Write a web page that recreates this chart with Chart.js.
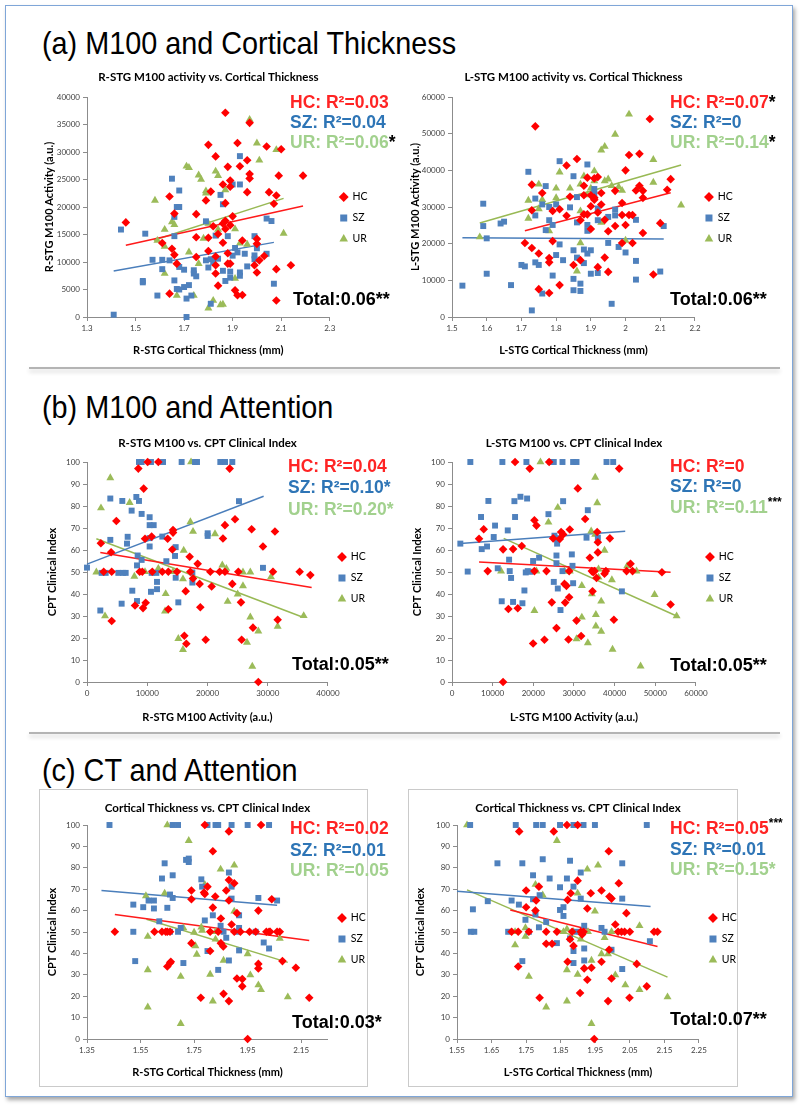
<!DOCTYPE html>
<html><head><meta charset="utf-8">
<script src="https://cdn.jsdelivr.net/npm/chart.js@4.4.0/dist/chart.umd.min.js"></script>
<style>
html,body{margin:0;padding:0;background:#fff;width:800px;height:1106px;overflow:hidden;}
.frame{position:absolute;left:5px;top:5px;width:786px;height:1090px;border:1.5px solid #7fa6d8;box-shadow:2px 3px 4px rgba(0,0,0,.35);}
.h{position:absolute;left:42px;font-family:"Liberation Sans",Arial,sans-serif;font-size:32px;line-height:32px;color:#000;white-space:nowrap;transform:scaleX(0.9);transform-origin:0 0;}
.sep{position:absolute;left:29px;width:751px;height:2px;background:#b4b4b4;box-shadow:0 3px 4px rgba(0,0,0,.18);}
.box{position:absolute;border:1px solid #cacaca;}
canvas{position:absolute;}
</style></head>
<body>
<div class="frame"></div>
<div class="h" style="top:27px">(a) M100 and Cortical Thickness</div>
<div class="sep" style="top:367px"></div>
<div class="h" style="top:391px">(b) M100 and Attention</div>
<div class="sep" style="top:732px"></div>
<div class="h" style="top:754px">(c) CT and Attention</div>
<div class="box" style="left:39px;top:789px;width:327px;height:296px"></div>
<div class="box" style="left:408px;top:789px;width:328px;height:296px"></div>
<canvas id="aL" width="400" height="324" style="left:0;top:56px"></canvas>
<canvas id="aR" width="400" height="324" style="left:400px;top:56px"></canvas>
<canvas id="bL" width="400" height="316" style="left:0;top:420px"></canvas>
<canvas id="bR" width="400" height="316" style="left:400px;top:420px"></canvas>
<canvas id="cL" width="400" height="298" style="left:0;top:790px"></canvas>
<canvas id="cR" width="400" height="298" style="left:400px;top:790px"></canvas>
<script>
// ---------------- DATA ----------------
const groups = ['HC', 'SZ', 'UR'];

// (a) left: R-STG cortical thickness (mm) vs R-STG M100 activity (a.u.)
const aL_HC = [[1.46,17200],[1.64,21900],[1.66,18800],[1.61,13450],[1.65,12400],[1.66,11300],[1.67,9700],[1.64,4250],[1.80,31300],[1.83,29200],[1.88,27300],[1.87,37150],[1.75,18700],[1.75,14500],[1.75,10900],[1.79,21200],[1.81,22800],[1.80,14400],[1.80,12000],[1.82,16500],[1.83,11000],[1.83,9400],[1.83,7900],[1.84,15100],[1.84,5700],[1.86,24100],[1.86,17000],[1.86,13500],[1.87,17500],[1.87,16000],[1.87,20700],[1.88,11600],[1.89,24800],[1.89,23700],[1.89,16700],[1.88,9700],[1.89,9700],[1.90,18300],[1.91,4850],[1.92,31650],[1.92,3950],[1.93,27400],[1.94,13900],[1.94,4000],[1.96,28500],[1.96,22700],[1.97,26000],[1.97,25200],[1.97,35300],[1.99,9400],[2.00,14200],[2.00,13300],[2.00,8100],[2.01,10300],[2.03,11100],[2.04,31000],[2.05,22700],[2.07,20600],[2.08,22100],[2.08,8700],[2.08,3000],[2.09,25700],[2.10,30500],[2.14,9400],[2.19,25700]];
const aL_SZ = [[1.41,420],[1.44,15900],[1.54,15150],[1.53,6550],[1.53,6300],[1.57,10400],[1.59,3900],[1.61,10400],[1.61,8700],[1.64,10300],[1.65,25150],[1.66,18200],[1.66,14700],[1.66,6650],[1.67,20000],[1.67,5100],[1.68,23000],[1.68,20000],[1.68,9100],[1.68,5000],[1.70,8600],[1.70,5450],[1.71,3350],[1.71,0],[1.72,5800],[1.73,3900],[1.74,8500],[1.74,7900],[1.75,7400],[1.79,17400],[1.79,10300],[1.80,9000],[1.81,10500],[1.81,2400],[1.82,10000],[1.83,14800],[1.84,10600],[1.85,22200],[1.86,20500],[1.86,8400],[1.87,6550],[1.88,14700],[1.89,8250],[1.89,7150],[1.90,24100],[1.90,11150],[1.91,12550],[1.92,11750],[1.93,29250],[1.93,24100],[1.93,8100],[1.93,7500],[1.95,11500],[1.96,9200],[1.99,14700],[1.99,11200],[1.99,10500],[2.00,12500],[2.04,17900],[2.06,17450],[2.04,11500],[2.07,6050]];
const aL_UR = [[1.58,21200],[1.59,13900],[1.62,15900],[1.62,12850],[1.62,7900],[1.65,17300],[1.66,16800],[1.67,3900],[1.71,27400],[1.72,27150],[1.72,11800],[1.74,3900],[1.76,25800],[1.77,25000],[1.76,9700],[1.78,14300],[1.79,22900],[1.79,22500],[1.80,17000],[1.80,1600],[1.82,3000],[1.83,26500],[1.84,25700],[1.84,15900],[1.85,2200],[1.86,2300],[1.87,23100],[1.91,16000],[1.91,7000],[1.93,13400],[1.96,13200],[1.97,35900],[2.00,31600],[2.01,28500],[2.08,30400],[2.11,15200]];
const aL_fit = {HC: [[1.46,13030],[2.19,20180]], SZ: [[1.41,8360],[2.07,13570]], UR: [[1.575,13940],[2.11,21570]]};

// (a) right: L-STG cortical thickness vs L-STG M100 activity
const aR_HC = [[1.74,52000],[2.07,54000],[1.73,36100],[1.71,20200],[1.73,18800],[1.73,29100],[1.75,17300],[1.75,7600],[1.76,33800],[1.78,16100],[1.78,14900],[1.78,6550],[1.79,28900],[1.79,20700],[1.81,29400],[1.81,8700],[1.83,27600],[1.83,41300],[1.84,32800],[1.85,14200],[1.86,43100],[1.87,26400],[1.87,15500],[1.88,28000],[1.88,35800],[1.88,33200],[1.89,38000],[1.89,28000],[1.90,33200],[1.90,30200],[1.90,24000],[1.91,32500],[1.91,32000],[1.91,37800],[1.92,28500],[1.92,38200],[1.92,13600],[1.93,33800],[1.93,30700],[1.94,26500],[1.94,16200],[1.95,12300],[1.95,23400],[1.97,24800],[1.97,34400],[1.99,31100],[1.99,27800],[1.99,20200],[2.00,40000],[2.00,25100],[2.01,44200],[2.01,27800],[2.02,27800],[2.02,20200],[2.03,34500],[2.04,44500],[2.04,35800],[2.05,32500],[2.05,34400],[2.05,22900],[2.08,11600],[2.10,25600],[2.12,34700],[2.13,37600]];
const aR_SZ = [[1.53,8550],[1.59,30900],[1.59,24800],[1.60,21450],[1.60,11800],[1.64,25500],[1.65,26000],[1.67,8700],[1.70,14200],[1.71,13800],[1.72,39600],[1.73,1800],[1.74,32300],[1.74,27700],[1.74,14900],[1.75,14200],[1.76,30700],[1.76,6400],[1.77,35700],[1.77,23700],[1.78,30000],[1.78,26400],[1.79,25100],[1.79,11300],[1.80,30700],[1.80,16900],[1.81,42500],[1.81,19800],[1.82,15500],[1.84,29900],[1.85,38400],[1.85,18200],[1.85,10400],[1.85,7300],[1.86,32700],[1.86,25800],[1.86,16200],[1.87,9100],[1.87,7100],[1.88,18400],[1.88,14700],[1.89,41600],[1.89,25100],[1.89,23500],[1.89,17300],[1.90,18200],[1.90,11800],[1.91,34900],[1.91,33500],[1.92,29600],[1.92,26400],[1.92,12000],[1.95,27300],[1.95,20200],[1.96,3600],[1.97,29300],[1.97,27700],[1.98,19100],[2.00,17600],[2.03,26500],[2.03,15300],[2.03,10200],[2.10,12400],[2.11,24800]];
const aR_UR = [[1.58,21800],[1.72,31800],[1.72,26900],[1.75,36200],[1.75,29500],[1.76,32000],[1.78,23500],[1.80,35100],[1.80,32500],[1.81,39500],[1.84,35100],[1.86,12500],[1.87,36200],[1.87,28900],[1.87,20200],[1.88,38400],[1.89,33300],[1.90,35100],[1.91,39800],[1.91,37100],[1.93,25800],[1.93,45500],[1.94,46500],[1.94,37100],[1.95,37600],[1.96,35800],[1.97,49800],[1.98,35500],[1.99,34500],[2.00,20900],[2.01,55300],[2.04,35500],[2.08,42900],[2.08,36700],[2.16,30500]];
const aR_fit = {HC: [[1.71,23540],[2.13,33900]], SZ: [[1.53,21630],[2.11,21270]], UR: [[1.58,25630],[2.16,41450]]};

// (b) left: R-STG M100 activity vs CPT clinical index
const bL_HC = [[2300,63.1],[2770,50.1],[4100,50.1],[4000,59.0],[4100,27.7],[4870,73.2],[7970,34.8],[8520,97.0],[8740,50.1],[9180,50.1],[9300,33.6],[9410,87.9],[9630,65.1],[9740,36.0],[10070,100],[10730,66.1],[10840,50.1],[11840,100],[12500,50.1],[13390,65.1],[13500,33.1],[13500,50.1],[14160,60.2],[14280,69.1],[14280,67.9],[14940,50.1],[16160,21.0],[16380,41.3],[16490,17.4],[17040,56.9],[17150,50.1],[17600,47.1],[18370,53.7],[18700,44.6],[18810,34.0],[19700,19.2],[20470,50.1],[20690,43.4],[22020,50.1],[22570,65.2],[22900,71.3],[22900,50.1],[23680,97.0],[24120,44.6],[24570,74.0],[25120,50.1],[25560,36.2],[25670,19.2],[27330,69.4],[27550,24.7],[28440,0],[29210,61.6],[30870,50.1],[31200,68.4],[31650,28.3],[35300,50.1],[37070,48.6]];
const bL_SZ = [[0,52.0],[2210,32.5],[2430,49.6],[3100,49.6],[3870,83.4],[3870,64.6],[5200,49.6],[5750,35.6],[5860,82.3],[5970,49.6],[6420,49.6],[6750,66.0],[6640,62.9],[7410,77.9],[7520,41.5],[8190,84.1],[8300,36.8],[8300,53.0],[8410,57.5],[8630,82.3],[8630,100],[9070,100],[9070,76.4],[9070,55.5],[10400,74.9],[10400,71.3],[10400,65.4],[10400,61.6],[10620,100],[10620,41.0],[10730,49.6],[11070,71.3],[11510,49.6],[11620,45.5],[11620,42.2],[12620,100],[12500,66.1],[13170,54.9],[14610,57.3],[14720,61.3],[14720,47.4],[15160,36.2],[15710,100],[17490,49.8],[17490,45.2],[17930,100],[18260,100],[20030,67.6],[20030,66.4],[22130,100],[22910,100],[24120,100],[25230,82.2],[29210,51.9]];
const bL_UR = [[1550,49.9],[2320,79.1],[2990,30.0],[3870,92.8],[7080,81.5],[7860,48.0],[9630,50.1],[11840,51.6],[13060,40.1],[12950,32.2],[14280,50.1],[15160,19.7],[15930,14.7],[15930,46.8],[16050,59.8],[17160,72.8],[17270,100],[17600,68.4],[21250,67.3],[22460,53.1],[23130,51.6],[23350,36.6],[25010,39.9],[25890,49.9],[25890,43.7],[26560,18.0],[27110,49.9],[27110,29.5],[27440,7.1],[28440,23.1],[30540,47.7],[31650,25.3],[35970,30.1]];
const bL_fit = {HC: [[2210,58.9],[37290,43.0]], SZ: [[0,53.6],[29320,84.4]], UR: [[1550,65.1],[35850,29.4]]};

// (b) right: L-STG M100 activity vs CPT clinical index
const bR_HC = [[6650,65.1],[7800,69.4],[8780,50.4],[12560,60.3],[12560,0],[13870,33.2],[15020,60.4],[15510,100],[16170,33.5],[17160,61.8],[19120,97.0],[19950,17.5],[20270,73.5],[20270,50.4],[20770,71.1],[22740,19.2],[23230,50.4],[23890,100],[24540,36.2],[24870,65.3],[25690,24.5],[26510,65.0],[26840,68.2],[27330,67.1],[27660,44.6],[27830,36.1],[28150,43.7],[28650,19.3],[28810,50.4],[28970,69.3],[28810,38.5],[30940,88.0],[30620,27.9],[31760,20.9],[32750,74.1],[33900,56.5],[34390,50.4],[34720,49.9],[35050,50.4],[34560,41.2],[35870,58.9],[35870,63.5],[35710,68.2],[35540,47.3],[37510,49.2],[37840,50.4],[38820,65.3],[39810,28.3],[41120,97.0],[42930,50.4],[43910,53.7],[44410,50.4],[51630,49.9],[53760,35.2]];
const bR_SZ = [[2050,62.9],[3860,50.2],[4510,100],[7140,75.0],[7310,60.4],[8620,61.6],[8950,82.3],[10260,65.9],[10590,71.1],[11250,51.7],[12390,100],[12230,36.7],[13710,68.9],[14040,55.6],[14200,50.4],[14530,47.3],[15020,36.4],[15350,82.2],[15510,75.0],[16830,84.2],[17320,35.8],[17810,41.6],[18140,49.8],[18300,100],[18470,83.4],[18630,50.4],[19290,50.1],[19950,55.0],[21420,56.5],[23720,76.3],[24210,100],[25030,100],[25200,66.5],[25530,65.3],[25690,54.0],[27170,100],[27330,82.2],[25850,62.9],[25690,57.5],[26020,42.5],[26680,32.7],[27170,50.4],[29470,58.0],[29790,100],[30620,100],[29630,52.8],[29790,44.9],[33080,65.6],[33400,78.1],[35870,65.6],[38000,100],[39640,100],[41780,41.2],[25030,45.5]];
const bR_UR = [[12070,50.4],[20770,50.4],[20270,32.4],[21750,100],[23720,72.6],[26020,79.3],[27660,50.4],[28970,50.4],[30620,19.6],[31930,43.8],[31930,29.4],[33410,17.8],[34230,68.6],[34390,40.0],[35220,93.0],[35220,67.1],[35380,30.6],[35380,25.4],[35710,81.4],[36030,51.3],[36030,47.6],[36690,36.7],[36690,23.0],[37510,59.8],[39320,46.4],[39480,14.8],[43090,52.8],[45390,50.4],[46380,7.2],[49820,39.7],[55240,30.0]];
const bR_fit = {HC: [[6650,54.5],[53760,49.9]], SZ: [[2050,62.9],[42600,68.5]], UR: [[12720,65.3],[55240,30.0]]};

// (c) left: R-STG cortical thickness vs CPT clinical index
const cL_HC = [[1.454,50.1],[1.602,50.1],[1.63,50.1],[1.644,50.1],[1.65,50.1],[1.66,50.1],[1.65,33.9],[1.66,35.5],[1.663,36.1],[1.74,69.4],[1.74,65.3],[1.74,44.8],[1.775,19.3],[1.787,68.4],[1.79,100],[1.79,67.8],[1.80,71.2],[1.81,41.1],[1.81,50.1],[1.82,87.7],[1.82,61.4],[1.829,66.6],[1.84,50.1],[1.85,56.3],[1.85,44.8],[1.859,43.2],[1.86,21.1],[1.87,69.4],[1.88,74.3],[1.88,64.7],[1.88,17.7],[1.88,97.0],[1.89,53.5],[1.90,72.8],[1.90,50.1],[1.91,58.8],[1.91,28.3],[1.923,50.1],[1.93,28.0],[1.93,24.6],[1.95,0],[1.957,50.1],[1.98,50.1],[1.99,60.0],[1.99,35.1],[1.99,33.0],[2.00,100],[2.02,50.1],[2.03,50.1],[2.034,50.1],[2.04,65.3],[2.06,50.1],[2.07,50.1],[2.08,36.4],[2.13,33.3],[2.18,19.3]];
const cL_SZ = [[1.434,100],[1.523,50.1],[1.523,62.8],[1.53,36.4],[1.56,61.6],[1.58,64.7],[1.60,64.7],[1.60,61.0],[1.62,55.0],[1.63,75.0],[1.64,82.1],[1.65,61.3],[1.66,67.5],[1.67,65.9],[1.67,76.5],[1.67,100],[1.66,50.1],[1.69,100],[1.69,50.1],[1.70,51.9],[1.71,35.5],[1.72,83.7],[1.73,82.7],[1.73,84.3],[1.777,74.6],[1.78,71.2],[1.79,55.4],[1.80,41.1],[1.80,100],[1.82,57.8],[1.83,100],[1.84,100],[1.84,32.3],[1.849,52.9],[1.86,50.1],[1.87,47.3],[1.88,77.8],[1.88,36.7],[1.89,100],[1.89,71.2],[1.89,65.6],[1.91,50.1],[1.918,57.8],[1.918,51.9],[1.918,41.4],[1.95,100],[1.98,50.1],[1.99,65.9],[2.01,45.1],[2.03,100],[2.03,42.3],[2.06,64.7]];
const cL_UR = [[1.57,66.9],[1.577,47.9],[1.577,14.9],[1.577,32.3],[1.64,68.1],[1.65,100],[1.70,29.2],[1.70,7.2],[1.71,51.9],[1.73,92.7],[1.75,49.8],[1.755,43.5],[1.76,39.5],[1.777,52.2],[1.78,50.7],[1.79,72.2],[1.81,30.2],[1.82,17.7],[1.83,46.6],[1.83,50.1],[1.849,79.3],[1.86,36.7],[1.90,81.2],[1.90,59.7],[1.95,39.8],[1.96,29.9],[1.99,25.2],[2.00,23.0],[2.07,47.0],[2.10,19.6]];
const cL_fit = {HC: [[1.454,58.2],[2.18,46.0]], SZ: [[1.404,69.4],[2.06,62.5]], UR: [[1.572,56.0],[2.10,35.8]]};

// (c) right: L-STG cortical thickness vs CPT clinical index
const cR_HC = [[1.708,50.1],[1.727,50.1],[1.727,33.9],[1.73,97.0],[1.75,69.4],[1.75,61.6],[1.758,50.1],[1.777,60.0],[1.779,64.7],[1.787,71.2],[1.789,19.3],[1.808,50.1],[1.808,44.5],[1.825,44.5],[1.83,97.0],[1.839,50.1],[1.868,100],[1.87,65.0],[1.87,36.1],[1.877,46.6],[1.879,68.1],[1.883,50.1],[1.887,43.5],[1.899,100],[1.899,74.0],[1.906,21.5],[1.908,50.1],[1.912,48.8],[1.916,50.1],[1.918,33.0],[1.927,27.7],[1.927,61.0],[1.937,68.1],[1.939,33.3],[1.947,0],[1.968,69.4],[1.968,36.1],[1.987,17.7],[1.989,87.7],[1.991,66.6],[1.997,65.6],[1.997,28.3],[2.008,53.5],[2.016,50.1],[2.018,72.8],[2.026,50.1],[2.035,50.1],[2.04,58.8],[2.05,50.1],[2.049,19.3],[2.07,35.1],[2.099,24.6],[2.12,50.1],[2.13,50.1],[1.99,41.7]];
const cR_SZ = [[1.588,100],[1.59,50.1],[1.60,50.1],[1.596,60.6],[1.639,64.4],[1.667,82.1],[1.698,50.1],[1.708,64.7],[1.72,100],[1.729,62.8],[1.739,82.1],[1.739,36.4],[1.748,55.7],[1.758,50.1],[1.77,76.5],[1.77,65.3],[1.777,58.2],[1.779,100],[1.787,52.2],[1.789,67.2],[1.798,100],[1.798,84.0],[1.808,54.7],[1.818,75.0],[1.839,44.8],[1.848,100],[1.848,70.9],[1.848,60.3],[1.858,61.6],[1.858,57.5],[1.868,75.0],[1.877,83.3],[1.877,47.0],[1.887,100],[1.887,71.2],[1.887,41.1],[1.887,35.5],[1.897,50.1],[1.908,77.8],[1.908,65.6],[1.916,100],[1.918,52.9],[1.918,42.3],[1.918,36.7],[1.949,100],[1.968,51.9],[1.977,50.1],[1.997,41.7],[2.028,82.1],[2.028,65.6],[2.028,32.7],[2.099,100],[2.108,45.7]];
const cR_UR = [[1.579,100],[1.718,43.9],[1.718,50.1],[1.748,51.9],[1.748,47.9],[1.758,29.2],[1.777,72.2],[1.798,67.2],[1.808,14.9],[1.839,92.7],[1.858,50.1],[1.868,51.3],[1.868,32.3],[1.868,17.7],[1.887,50.1],[1.899,68.1],[1.899,30.2],[1.908,46.6],[1.927,79.3],[1.929,50.1],[1.939,36.7],[1.939,7.2],[1.949,59.7],[1.958,81.2],[1.968,39.8],[1.977,47.3],[1.987,39.8],[1.997,50.1],[2.008,29.9],[2.037,25.2],[2.078,23.0],[2.078,52.9],[2.159,19.6]];
const cR_fit = {HC: [[1.704,60.3],[2.13,43.2]], SZ: [[1.55,69.0],[2.11,61.9]], UR: [[1.579,69.7],[2.159,28.9]]};

// tick labels
const ticksCT_R = [1.3,1.5,1.7,1.9,2.1,2.3];
const ticksCT_L = [1.5,1.6,1.7,1.8,1.9,2.0,2.1,2.2];
const ticksM100_R = [0,5000,10000,15000,20000,25000,30000,35000,40000];
const ticksM100_L = [0,10000,20000,30000,40000,50000,60000];
const ticksM100_Rx = [0,10000,20000,30000,40000];
const ticksCPT = [0,10,20,30,40,50,60,70,80,90,100];
const ticksCT_Rc = [1.35,1.55,1.75,1.95,2.15];
const ticksCT_Lc = [1.55,1.65,1.75,1.85,1.95,2.05,2.15,2.25];

// R² labels [text, colourKey]
const rsq = {
  aL: [[['HC: R²=0.03','HC']],[['SZ: R²=0.04','SZ']],[['UR: R²=0.06','UR'],['*','K']]],
  aR: [[['HC: R²=0.07','HC'],['*','K']],[['SZ: R²=0','SZ']],[['UR: R²=0.14','UR'],['*','K']]],
  bL: [[['HC: R²=0.04','HC']],[['SZ: R²=0.10*','SZ']],[['UR: R²=0.20*','UR']]],
  bR: [[['HC: R²=0','HC']],[['SZ: R²=0','SZ']],[['UR: R²=0.11','UR'],['***','Ks']]],
  cL: [[['HC: R²=0.02','HC']],[['SZ: R²=0.01','SZ']],[['UR: R²=0.05','UR']]],
  cR: [[['HC: R²=0.05','HC'],['***','Ks']],[['SZ: R²=0.01','SZ']],[['UR: R²=0.15*','UR']]]
};
const totals = {aL:'Total:0.06**', aR:'Total:0.06**', bL:'Total:0.05**', bR:'Total:0.05**', cL:'Total:0.03*', cR:'Total:0.07**'};

// ---------------- STYLE ----------------
const markColor = {HC:'#ff0000', SZ:'#4f81bd', UR:'#9bbb59'};
const lineColor = {HC:'#ff1a1a', SZ:'#4a7ebb', UR:'#98b954'};
const textColor = {HC:'#ff2424', SZ:'#2e75b6', UR:'#a2d18e', K:'#000', Ks:'#000'};
const pStyle = {HC:'rectRot', SZ:'rect', UR:'triangle'};
const pRad = {HC:4.3, SZ:4.2, UR:4.6};
const AXIS = '#8c8c8c';

function annoPlugin(L){
  return {id:'anno', afterDraw(chart){
    const ctx = chart.ctx; ctx.save(); ctx.textBaseline = 'middle'; ctx.textAlign = 'left';
    L.rows.forEach((row, i) => {
      let x = L.ax; const y = L.ay[i];
      row.forEach(([t, k]) => {
        const small = k === 'Ks';
        ctx.font = 'bold ' + (small ? 12 : 17.5) + 'px "Liberation Sans", Arial, sans-serif';
        ctx.fillStyle = textColor[k];
        ctx.fillText(t, x, small ? y - 5 : y);
        x += ctx.measureText(t).width;
      });
    });
    ctx.font = 'bold 18px "Liberation Sans", Arial, sans-serif'; ctx.fillStyle = '#000';
    ctx.fillText(L.total, L.tx, L.ty);
    ctx.restore();
  }};
}

function build(id, D, fit, L){
  const ds = groups.map((g, i) => ({
    label: g, data: D[i].map(([x, y]) => ({x, y})), pointStyle: pStyle[g], pointRadius: pRad[g],
    backgroundColor: markColor[g], borderColor: markColor[g], borderWidth: 0, showLine: false, clip: false
  }));
  groups.forEach(g => ds.push({
    label: g + ' fit', data: fit[g].map(([x, y]) => ({x, y})), showLine: true, pointRadius: 0,
    borderColor: lineColor[g], backgroundColor: lineColor[g], borderWidth: 1.5, fill: false, clip: false
  }));
  const tickFont = {family: 'Lato', size: 8};
  const fmt = v => String(+(+v).toFixed(2));
  new Chart(document.getElementById(id), {
    type: 'scatter',
    data: {datasets: ds},
    options: {
      responsive: false, animation: false, events: [], devicePixelRatio: 1,
      layout: {padding: {left: 0, top: 0, bottom: 0, right: L.padR}},
      plugins: {
        tooltip: {enabled: false},
        title: {display: true, text: L.title, fullSize: false, color: '#000',
          font: {family: 'Lato', size: 11.5, weight: 'bold'}, padding: {top: L.tpt, bottom: L.tpb}},
        legend: {position: 'right', align: 'center', labels: {usePointStyle: true, boxWidth: 7, boxHeight: 7,
          padding: 10.5, color: '#000', font: {family: 'Lato', size: 10.5},
          filter: it => it.datasetIndex < 3}}
      },
      scales: {
        x: {type: 'linear', min: L.xmin, max: L.xmax,
          afterBuildTicks: s => { s.ticks = L.xt.map(v => ({value: v})); },
          afterFit: s => { s.height = L.xh; },
          ticks: {font: tickFont, color: '#404040', padding: 3, maxRotation: 0, autoSkip: false, callback: fmt},
          grid: {drawOnChartArea: false, drawTicks: true, tickLength: 4, color: AXIS},
          border: {display: true, color: AXIS},
          title: {display: true, text: L.xtitle, color: '#000', font: {family: 'Lato', size: 11, weight: 'bold'},
            padding: {top: 0, bottom: L.xpb}}},
        y: {type: 'linear', min: L.ymin, max: L.ymax,
          afterBuildTicks: s => { s.ticks = L.yt.map(v => ({value: v})); },
          afterFit: s => { s.width = L.yw; },
          ticks: {font: tickFont, color: '#404040', padding: 3, autoSkip: false, callback: fmt},
          grid: {drawOnChartArea: false, drawTicks: true, tickLength: 4, color: AXIS},
          border: {display: true, color: AXIS},
          title: {display: true, text: L.ytitle, color: '#000', font: {family: 'Lato', size: 11, weight: 'bold'},
            padding: {top: L.ypt, bottom: 0}}}
      }
    },
    plugins: [annoPlugin(L)]
  });
}

build('aL', [aL_HC, aL_SZ, aL_UR], aL_fit, {
  title: 'R-STG M100 activity vs. Cortical Thickness', xtitle: 'R-STG Cortical Thickness (mm)', ytitle: 'R-STG M100 Activity (a.u.)',
  xmin: 1.3, xmax: 2.3, xt: ticksCT_R, ymin: 0, ymax: 40000, yt: ticksM100_R,
  padR: 22.5, tpt: 14.1, tpb: 13.1, xh: 63, xpb: 23.4, yw: 87, ypt: 42.4,
  rows: rsq.aL, ax: 290, ay: [47, 67, 87], total: totals.aL, tx: 293, ty: 244});
build('aR', [aR_HC, aR_SZ, aR_UR], aR_fit, {
  title: 'L-STG M100 activity vs. Cortical Thickness', xtitle: 'L-STG Cortical Thickness (mm)', ytitle: 'L-STG M100 Activity (a.u.)',
  xmin: 1.5, xmax: 2.2, xt: ticksCT_L, ymin: 0, ymax: 60000, yt: ticksM100_L,
  padR: 57.25, tpt: 14.1, tpb: 13.1, xh: 63, xpb: 23.4, yw: 52, ypt: 8.4,
  rows: rsq.aR, ax: 270, ay: [47, 67, 87], total: totals.aR, tx: 270, ty: 244});
build('bL', [bL_HC, bL_SZ, bL_UR], bL_fit, {
  title: 'R-STG M100 vs. CPT Clinical Index', xtitle: 'R-STG M100 Activity (a.u.)', ytitle: 'CPT Clinical Index',
  xmin: 0, xmax: 40000, xt: ticksM100_Rx, ymin: 0, ymax: 100, yt: ticksCPT,
  padR: 24.25, tpt: 16.1, tpb: 12.1, xh: 54, xpb: 12.4, yw: 87, ypt: 45.4,
  rows: rsq.bL, ax: 288, ay: [47, 68, 90], total: totals.bL, tx: 292, ty: 245});
build('bR', [bR_HC, bR_SZ, bR_UR], bR_fit, {
  title: 'L-STG M100 vs. CPT Clinical Index', xtitle: 'L-STG M100 Activity (a.u.)', ytitle: 'CPT Clinical Index',
  xmin: 0, xmax: 60000, xt: ticksM100_L, ymin: 0, ymax: 100, yt: ticksCPT,
  padR: 56.25, tpt: 16.1, tpb: 12.1, xh: 54, xpb: 12.4, yw: 52, ypt: 10.4,
  rows: rsq.bR, ax: 270, ay: [47, 67, 88], total: totals.bR, tx: 270, ty: 246});
build('cL', [cL_HC, cL_SZ, cL_UR], cL_fit, {
  title: 'Cortical Thickness vs. CPT Clinical Index', xtitle: 'R-STG Cortical Thickness (mm)', ytitle: 'CPT Clinical Index',
  xmin: 1.35, xmax: 2.25, xt: ticksCT_Rc, ymin: 0, ymax: 100, yt: ticksCPT,
  padR: 24.25, tpt: 11.1, tpb: 10.1, xh: 49, xpb: 9.4, yw: 87, ypt: 45.4,
  rows: rsq.cL, ax: 290, ay: [39, 61, 81], total: totals.cL, tx: 292, ty: 233});
build('cR', [cR_HC, cR_SZ, cR_UR], cR_fit, {
  title: 'Cortical Thickness vs. CPT Clinical Index', xtitle: 'L-STG Cortical Thickness (mm)', ytitle: 'CPT Clinical Index',
  xmin: 1.55, xmax: 2.25, xt: ticksCT_Lc, ymin: 0, ymax: 100, yt: ticksCPT,
  padR: 53.25, tpt: 11.1, tpb: 10.1, xh: 49, xpb: 9.4, yw: 57, ypt: 13.4,
  rows: rsq.cR, ax: 270, ay: [39, 60, 80], total: totals.cR, tx: 270, ty: 230});
</script>
</body></html>
